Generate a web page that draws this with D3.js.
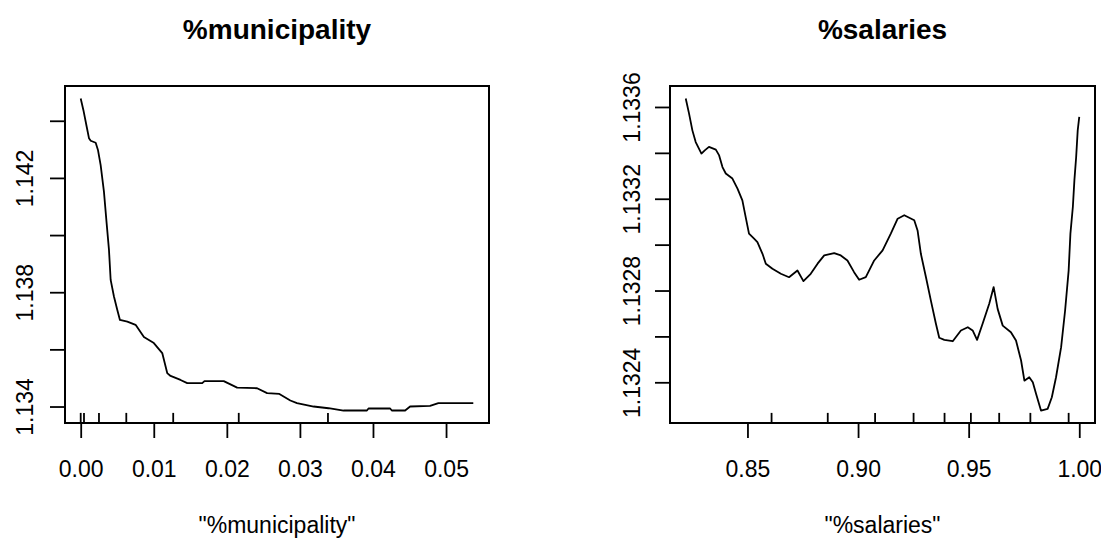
<!DOCTYPE html>
<html>
<head>
<meta charset="utf-8">
<script src="https://cdn.jsdelivr.net/npm/d3@7"></script>
<style>
  body { margin: 0; background: #fff; }
  svg text { font-family: "Liberation Sans", Arial, sans-serif; fill: #000; }
</style>
</head>
<body>
<svg id="chart" width="1101" height="540"></svg>
<script>
// partial dependence curves

var munX = [0, 0.00037, 0.00082, 0.00113, 0.00137, 0.00205, 0.00236, 0.00273, 0.00318, 0.00355,
            0.00387, 0.00410, 0.00455, 0.00501, 0.00537, 0.00638, 0.00751, 0.00865, 0.01001, 0.01116,
            0.01184, 0.01230, 0.01366, 0.01458, 0.01663, 0.01694, 0.01958, 0.02141, 0.02414, 0.02551,
            0.02719, 0.02869, 0.02960, 0.03074, 0.03187, 0.03392, 0.03597, 0.03917, 0.03939, 0.04235,
            0.04258, 0.04440, 0.04508, 0.04781, 0.04895, 0.05373];
var munY = [1.14478, 1.14437, 1.14379, 1.14339, 1.14330, 1.14323, 1.14298, 1.14245, 1.14152, 1.14041,
            1.13948, 1.13843, 1.13785, 1.13738, 1.13703, 1.13697, 1.13686, 1.13643, 1.13622, 1.13587,
            1.13517, 1.13507, 1.13493, 1.13482, 1.13482, 1.13489, 1.13489, 1.13466, 1.13464, 1.13447,
            1.13444, 1.13421, 1.13412, 1.13406, 1.13400, 1.13394, 1.13386, 1.13386, 1.13393, 1.13393,
            1.13386, 1.13386, 1.13400, 1.13402, 1.13412, 1.13412];
var munRug = [0, 0.00045, 0.0025, 0.00624, 0.01266, 0.02163, 0.03384];
var munXTicks = [0, 0.01, 0.02, 0.03, 0.04, 0.05];
var munXLabels = ["0.00", "0.01", "0.02", "0.03", "0.04", "0.05"];
var munYTicks = [1.134, 1.136, 1.138, 1.140, 1.142, 1.144];
var munYLabels = ["1.134", "", "1.138", "", "1.142", ""];

var salX = [0.8221, 0.8236, 0.8251, 0.8266, 0.8292, 0.8307, 0.8326, 0.8357, 0.8372, 0.8387,
            0.8402, 0.8432, 0.8455, 0.8477, 0.8492, 0.8507, 0.8530, 0.8545, 0.8568, 0.8583,
            0.8613, 0.8651, 0.8688, 0.8726, 0.8753, 0.8786, 0.8817, 0.8847, 0.8892, 0.8922,
            0.8952, 0.8982, 0.9005, 0.9035, 0.9073, 0.9111, 0.9148, 0.9179, 0.9209, 0.9254,
            0.9269, 0.9284, 0.9307, 0.9329, 0.9352, 0.9367, 0.9390, 0.9428, 0.9465, 0.9496,
            0.9518, 0.9538, 0.9563, 0.9593, 0.9613, 0.9631, 0.9654, 0.9691, 0.9714, 0.9737,
            0.9752, 0.9774, 0.9790, 0.9805, 0.9827, 0.9857, 0.9876, 0.9895, 0.9918, 0.9936,
            0.9952, 0.9960, 0.9971, 0.9978, 0.9986, 0.9993, 1.0000];
var salY = [1.133637, 1.133571, 1.133498, 1.133447, 1.133397, 1.133411, 1.133426, 1.133414, 1.133389, 1.133338,
            1.133310, 1.133288, 1.133244, 1.133193, 1.133120, 1.133048, 1.133026, 1.133011, 1.132960, 1.132917,
            1.132895, 1.132873, 1.132858, 1.132887, 1.132841, 1.132873, 1.132917, 1.132953, 1.132963, 1.132953,
            1.132931, 1.132880, 1.132847, 1.132858, 1.132931, 1.132975, 1.133048, 1.133113, 1.133128, 1.133106,
            1.133062, 1.132960, 1.132858, 1.132757, 1.132655, 1.132594, 1.132585, 1.132579, 1.132626, 1.132640,
            1.132626, 1.132585, 1.132655, 1.132742, 1.132815, 1.132720, 1.132647, 1.132618, 1.132582, 1.132495,
            1.132407, 1.132422, 1.132400, 1.132349, 1.132277, 1.132284, 1.132335, 1.132422, 1.132553, 1.132713,
            1.132887, 1.133048, 1.133164, 1.133280, 1.133382, 1.133498, 1.133557];
var salRug = [0.8609, 0.8863, 0.9077, 0.9251, 0.9391, 0.9510, 0.9638, 0.9779, 0.9952];
var salXTicks = [0.85, 0.90, 0.95, 1.00];
var salXLabels = ["0.85", "0.90", "0.95", "1.00"];
var salYTicks = [1.1324, 1.1326, 1.1328, 1.1330, 1.1332, 1.1334, 1.1336];
var salYLabels = ["1.1324", "", "1.1328", "", "1.1332", "", "1.1336"];

var svg = d3.select("#chart");

// R style limits: data range plus 4% each side
function padded(vals) {
  var ext = d3.extent(vals);
  var pad = (ext[1] - ext[0]) * 0.04;
  return [ext[0] - pad, ext[1] + pad];
}

function drawPanel(p) {
  var w = p.right - p.left, h = p.bottom - p.top;
  var g = svg.append("g").attr("transform", "translate(" + p.left + "," + p.top + ")");

  var x = d3.scaleLinear().domain(padded(p.xs)).range([0, w]);
  var y = d3.scaleLinear().domain(padded(p.ys)).range([h, 0]);

  var xAxis = g.append("g")
    .attr("transform", "translate(0," + h + ")")
    .call(d3.axisBottom(x).tickValues(p.xTicks).tickSize(15).tickPadding(23)
      .tickFormat(function(d, i) { return p.xLabels[i]; }));

  var yAxis = g.append("g")
    .call(d3.axisLeft(y).tickValues(p.yTicks).tickSize(15)
      .tickFormat(function(d, i) { return p.yLabels[i]; }));

  [xAxis, yAxis].forEach(function(a) {
    a.select(".domain").remove();
    a.selectAll(".tick line").attr("stroke", "#000").attr("stroke-width", 1.8);
    a.selectAll("text").attr("font-size", 23).attr("fill", "#000");
  });

  // y labels stand on their side like in R
  yAxis.selectAll("text")
    .attr("x", null).attr("dy", null)
    .attr("text-anchor", "middle")
    .attr("transform", "translate(" + p.yLabelOff + ",0) rotate(-90)");

  // rug along the bottom
  g.selectAll(".rug")
    .data(p.rug)
    .enter()
    .append("line")
    .attr("class", "rug")
    .attr("x1", function(d) { return x(d); })
    .attr("x2", function(d) { return x(d); })
    .attr("y1", h)
    .attr("y2", h - h * 0.03)
    .attr("stroke", "#000")
    .attr("stroke-width", 1.8);

  var pts = p.xs.map(function(v, i) { return [v, p.ys[i]]; });

  g.append("path")
    .datum(pts)
    .attr("fill", "none")
    .attr("stroke", "#000")
    .attr("stroke-width", 1.8)
    .attr("stroke-linejoin", "round")
    .attr("d", d3.line()
      .x(function(d) { return x(d[0]); })
      .y(function(d) { return y(d[1]); }));

  g.append("rect")
    .attr("width", w)
    .attr("height", h)
    .attr("fill", "none")
    .attr("stroke", "#000")
    .attr("stroke-width", 2);

  svg.append("text")
    .attr("x", p.left + w / 2)
    .attr("y", 39)
    .attr("text-anchor", "middle")
    .attr("font-size", 28)
    .attr("font-weight", "bold")
    .text(p.title);

  svg.append("text")
    .attr("x", p.left + w / 2)
    .attr("y", 533)
    .attr("text-anchor", "middle")
    .attr("font-size", 23)
    .text('"' + p.title + '"');
}

drawPanel({
  title: "%municipality",
  left: 65, right: 489, top: 86, bottom: 423,
  xs: munX, ys: munY, rug: munRug,
  xTicks: munXTicks, xLabels: munXLabels,
  yTicks: munYTicks, yLabels: munYLabels,
  yLabelOff: -32
});

drawPanel({
  title: "%salaries",
  left: 670, right: 1095, top: 86, bottom: 423,
  xs: salX, ys: salY, rug: salRug,
  xTicks: salXTicks, xLabels: salXLabels,
  yTicks: salYTicks, yLabels: salYLabels,
  yLabelOff: -30
});
</script>
</body>
</html>
